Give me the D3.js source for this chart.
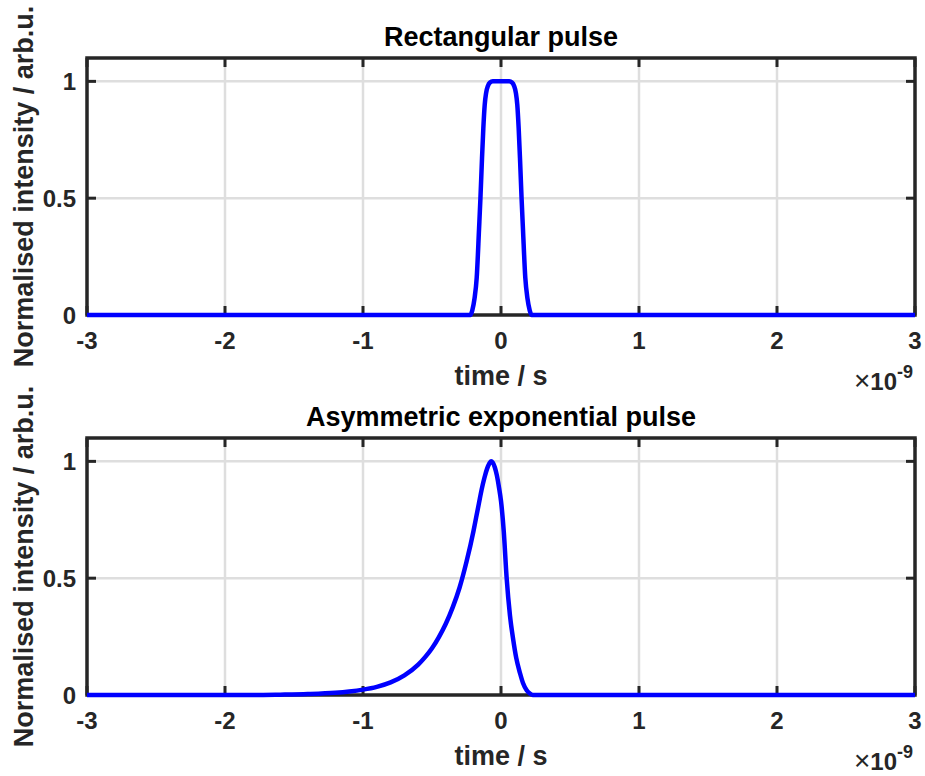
<!DOCTYPE html>
<html>
<head>
<meta charset="utf-8">
<script src="https://cdn.jsdelivr.net/npm/d3@7"></script>
<style>
  body { margin: 0; background: #fff; }
  text { font-family: "Liberation Sans", Arial, Helvetica, sans-serif; font-weight: bold; }
</style>
</head>
<body>
<div id="chart"></div>
<script>
// values (time in ns, intensity normalised)
const xTicks = [-3, -2, -1, 0, 1, 2, 3];
const yTicks = [0, 0.5, 1];

const rectTime = [-3, -0.222, -0.208, -0.192, -0.176, -0.159, -0.149, -0.139, -0.128, -0.118, -0.108, -0.095, -0.08, -0.06,
  0.06, 0.08, 0.095, 0.108, 0.118, 0.128, 0.139, 0.149, 0.159, 0.176, 0.192, 0.208, 0.222, 3];
const rectIntensity = [0, 0, 0.02, 0.07, 0.16, 0.37, 0.5, 0.65, 0.8, 0.9, 0.95, 0.98, 0.995, 1,
  1, 0.995, 0.98, 0.95, 0.9, 0.8, 0.65, 0.5, 0.37, 0.16, 0.07, 0.02, 0, 0];

const expTime = [-3, -1.8, -1.6, -1.4, -1.2, -1.1, -1.0, -0.9, -0.8, -0.7, -0.6, -0.55, -0.5, -0.45, -0.4, -0.35,
  -0.3, -0.25, -0.2, -0.18, -0.16, -0.14, -0.12, -0.1, -0.085, -0.072, -0.06, -0.045, -0.03, -0.015, 0,
  0.02, 0.041, 0.065, 0.089, 0.11, 0.138, 0.16, 0.186, 0.21, 0.23, 3];
const expIntensity = [0, 0, 0.0015, 0.004, 0.0095, 0.015, 0.023, 0.035, 0.054, 0.084, 0.13, 0.162, 0.2, 0.248, 0.305, 0.375,
  0.46, 0.57, 0.7, 0.76, 0.82, 0.88, 0.93, 0.97, 0.99, 1, 0.995, 0.975, 0.94, 0.89, 0.83,
  0.7, 0.5, 0.34, 0.235, 0.16, 0.093, 0.05, 0.02, 0.006, 0, 0];

const panels = [
  { title: 'Rectangular pulse', t: rectTime, v: rectIntensity, top: 58, bottom: 315 },
  { title: 'Asymmetric exponential pulse', t: expTime, v: expIntensity, top: 438, bottom: 695 }
];

const width = 925, height = 776;
const left = 87, right = 915;
const axisColor = '#262626';

const svg = d3.select('#chart').append('svg')
  .attr('width', width)
  .attr('height', height);

const x = d3.scaleLinear().domain([-3, 3]).range([left, right]);

panels.forEach(p => {
  const y = d3.scaleLinear().domain([0, 1.1]).range([p.bottom, p.top]);
  const g = svg.append('g');

  // grid
  g.selectAll('.gx').data(xTicks.slice(1, -1)).enter().append('line')
    .attr('x1', d => x(d)).attr('x2', d => x(d))
    .attr('y1', p.top).attr('y2', p.bottom)
    .attr('stroke', '#dedede').attr('stroke-width', 2.5);
  g.selectAll('.gy').data(yTicks.slice(1)).enter().append('line')
    .attr('x1', left).attr('x2', right)
    .attr('y1', d => y(d)).attr('y2', d => y(d))
    .attr('stroke', '#dedede').attr('stroke-width', 2.5);

  // ticks, inside on all four sides
  const tl = 9;
  xTicks.forEach(d => {
    g.append('line').attr('x1', x(d)).attr('x2', x(d)).attr('y1', p.bottom).attr('y2', p.bottom - tl)
      .attr('stroke', axisColor).attr('stroke-width', 3);
    g.append('line').attr('x1', x(d)).attr('x2', x(d)).attr('y1', p.top).attr('y2', p.top + tl)
      .attr('stroke', axisColor).attr('stroke-width', 3);
  });
  yTicks.forEach(d => {
    g.append('line').attr('x1', left).attr('x2', left + tl).attr('y1', y(d)).attr('y2', y(d))
      .attr('stroke', axisColor).attr('stroke-width', 3);
    g.append('line').attr('x1', right).attr('x2', right - tl).attr('y1', y(d)).attr('y2', y(d))
      .attr('stroke', axisColor).attr('stroke-width', 3);
  });

  // box
  g.append('rect')
    .attr('x', left).attr('y', p.top)
    .attr('width', right - left).attr('height', p.bottom - p.top)
    .attr('fill', 'none').attr('stroke', axisColor).attr('stroke-width', 3.5);

  // pulse
  const pts = p.t.map((t, i) => [t, p.v[i]]);
  g.append('path')
    .datum(pts)
    .attr('fill', 'none')
    .attr('stroke', '#0000ff')
    .attr('stroke-width', 4.5)
    .attr('stroke-linejoin', 'round')
    .attr('d', d3.line().x(d => x(d[0])).y(d => y(d[1])).curve(d3.curveMonotoneX));

  // tick labels
  g.selectAll('.xl').data(xTicks).enter().append('text')
    .attr('x', d => x(d)).attr('y', p.bottom + 34)
    .attr('text-anchor', 'middle')
    .attr('font-size', 24).attr('fill', axisColor)
    .text(d => d);
  g.selectAll('.yl').data(yTicks).enter().append('text')
    .attr('x', left - 11).attr('y', d => y(d))
    .attr('dy', '0.36em')
    .attr('text-anchor', 'end')
    .attr('font-size', 24).attr('fill', axisColor)
    .text(d => d);

  // x label
  g.append('text')
    .attr('x', x(0)).attr('y', p.bottom + 70)
    .attr('text-anchor', 'middle')
    .attr('font-size', 27).attr('fill', axisColor)
    .text('time / s');

  // exponent
  const ex = g.append('text')
    .attr('x', 913).attr('y', p.bottom + 75)
    .attr('text-anchor', 'end')
    .attr('font-size', 24).attr('fill', axisColor);
  ex.append('tspan').attr('font-weight', 'normal').attr('font-size', 28).text('\u00d7');
  ex.append('tspan').text('10');
  ex.append('tspan').attr('font-size', 18).attr('dy', -12).text('-9');

  // y label
  g.append('text')
    .attr('transform', `translate(33,${(p.top + p.bottom) / 2}) rotate(-90)`)
    .attr('text-anchor', 'middle')
    .attr('font-size', 27).attr('fill', axisColor)
    .text('Normalised intensity / arb.u.');

  // title
  g.append('text')
    .attr('x', (left + right) / 2).attr('y', p.top - 12)
    .attr('text-anchor', 'middle')
    .attr('font-size', 27).attr('fill', '#000')
    .text(p.title);
});
</script>
</body>
</html>
